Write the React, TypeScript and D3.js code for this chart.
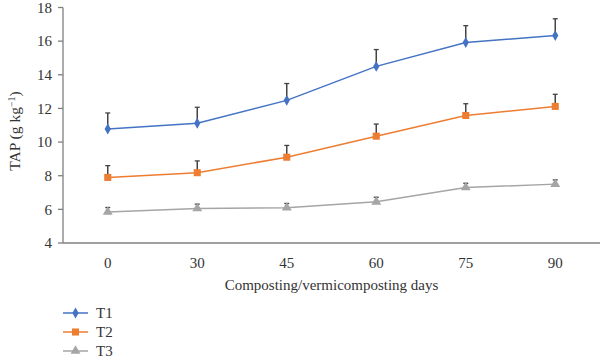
import React from "react";
import * as d3 from "d3";

const categories = ["0", "30", "45", "60", "75", "90"];
const t1 = [10.78, 11.12, 12.48, 14.5, 15.92, 16.33];
const t1Err = [0.95, 0.95, 1.0, 1.0, 1.0, 1.0];
const t2 = [7.9, 8.18, 9.1, 10.35, 11.58, 12.12];
const t2Err = [0.7, 0.7, 0.7, 0.72, 0.7, 0.72];
const t3 = [5.85, 6.05, 6.1, 6.45, 7.3, 7.5];
const t3Err = [0.26, 0.26, 0.25, 0.27, 0.25, 0.25];
const yTicks = [4, 6, 8, 10, 12, 14, 16, 18];

const seriesNames = ["T1", "T2", "T3"];
const colors = ["#4472C4", "#ED7D31", "#A5A5A5"];
const markers = [d3.symbolDiamond, d3.symbolSquare, d3.symbolTriangle];
const markerSizes = [34, 50, 42];

export default function App() {
  const W = 600, H = 360;
  const left = 63, right = 600, top = 7.5, bottom = 243;
  const x = d3.scaleBand<string>().domain(categories).range([left, right]);
  const y = d3.scaleLinear().domain([4, 18]).range([bottom, top]);
  const cx = (c: string) => (x(c) as number) + x.bandwidth() / 2;
  const font = "'Liberation Serif', 'Times New Roman', serif";
  const data = [t1, t2, t3];
  const errs = [t1Err, t2Err, t3Err];
  const line = d3
    .line<number>()
    .x((_, i) => cx(categories[i]))
    .y((d) => y(d));

  return (
    <svg
      width={W}
      height={H}
      style={{ position: "absolute", left: 0, top: 0, background: "#fff" }}
      fontFamily={font}
    >
      {/* axes */}
      <line x1={left} x2={left} y1={top} y2={bottom} stroke="#7f7f7f" strokeWidth={1.3} />
      <line x1={left} x2={right} y1={bottom} y2={bottom} stroke="#7f7f7f" strokeWidth={1.3} />
      {yTicks.map((t) => (
        <g key={t}>
          <line x1={left - 5} x2={left} y1={y(t)} y2={y(t)} stroke="#7f7f7f" strokeWidth={1.3} />
          <text x={left - 11} y={y(t)} dy="0.35em" textAnchor="end" fontSize={15} fill="#333">
            {t}
          </text>
        </g>
      ))}
      {categories.map((c) => (
        <text key={c} x={cx(c)} y={bottom + 20} dy="0.35em" textAnchor="middle" fontSize={15} fill="#333">
          {c}
        </text>
      ))}
      <text x={(left + right) / 2} y={285} dy="0.35em" textAnchor="middle" fontSize={15} fill="#333">
        Composting/vermicomposting days
      </text>
      <text
        transform={`translate(15, 131) rotate(-90)`}
        textAnchor="middle"
        dy="0.35em"
        fontSize={15.5}
        fill="#333"
      >
        TAP (g kg
        <tspan dy="-5.5" fontSize={10}>−1</tspan>
        <tspan dy="5.5">)</tspan>
      </text>

      {/* series */}
      {data.map((vals, si) => (
        <g key={si}>
          <path d={line(vals) || ""} fill="none" stroke={colors[si]} strokeWidth={1.5} />
          {vals.map((v, i) => {
            const px = cx(categories[i]);
            const y0 = y(v);
            const y1 = y(v + errs[si][i]);
            return (
              <g key={i}>
                <line x1={px} x2={px} y1={y0} y2={y1} stroke="#444" strokeWidth={1.5} />
                <line x1={px - 2.5} x2={px + 2.5} y1={y1} y2={y1} stroke="#444" strokeWidth={1.3} />
              </g>
            );
          })}
          {vals.map((v, i) => (
            <path
              key={"m" + i}
              transform={`translate(${cx(categories[i])},${y(v)})`}
              d={d3.symbol().type(markers[si]).size(markerSizes[si])() || ""}
              fill={colors[si]}
            />
          ))}
        </g>
      ))}

      {/* legend */}
      {seriesNames.map((n, i) => {
        const ly = 313 + i * 19;
        return (
          <g key={n}>
            <line x1={63} x2={88} y1={ly} y2={ly} stroke={colors[i]} strokeWidth={1.5} />
            <path
              transform={`translate(75.5,${ly})`}
              d={d3.symbol().type(markers[i]).size(markerSizes[i])() || ""}
              fill={colors[i]}
            />
            <text x={96} y={ly} dy="0.35em" fontSize={15} fill="#333">
              {n}
            </text>
          </g>
        );
      })}
    </svg>
  );
}
